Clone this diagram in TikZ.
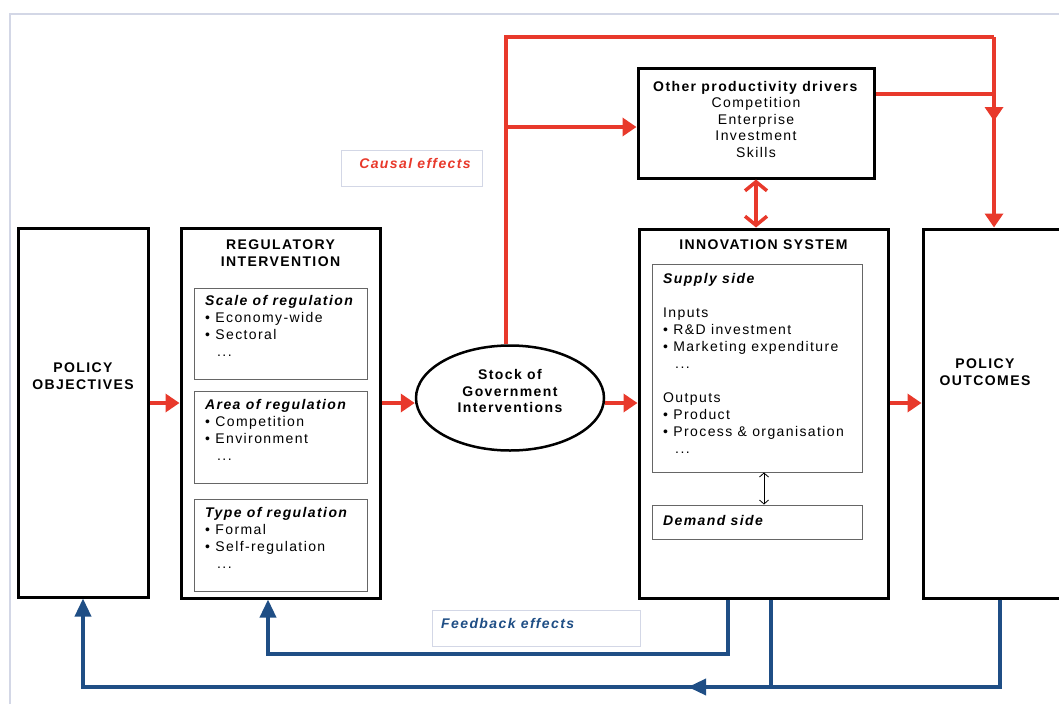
\documentclass[tikz,border=0pt]{standalone}
\usepackage{fontspec}
\setmainfont{Liberation Sans}[LetterSpace=10]
\usetikzlibrary{arrows.meta,shapes.geometric}
\definecolor{cred}{HTML}{E8392B}
\definecolor{cblue}{HTML}{1F4E85}
\definecolor{cframe}{HTML}{D3D7E6}
\tikzset{
  bigbox/.style={draw=black, line width=3pt, fill=white, inner sep=0pt},
  subbox/.style={draw=black!60, line width=0.9pt, inner sep=0pt},
  lblbox/.style={draw=cframe, line width=1pt, inner sep=0pt},
  ttl/.style={font=\fontsize{14}{17}\selectfont\bfseries, align=center, inner sep=0pt},
  body/.style={font=\fontsize{14}{17}\selectfont, align=left, anchor=north west, inner sep=0pt},
  redline/.style={draw=cred, line width=3.5pt},
  redarr/.style={draw=cred, line width=3.5pt, -{Triangle[length=14pt,width=18pt]}},
  bluearr/.style={draw=cblue, line width=3.5pt, -{Triangle[length=18pt,width=16pt]}},
  blueline/.style={draw=cblue, line width=3.5pt},
}
\begin{document}
\begin{tikzpicture}[x=1pt,y=-1pt]
\useasboundingbox (0,0) rectangle (1059,704);
% frame
\draw[cframe, line width=1.2pt] (10,704) -- (10,14) -- (1059,14);

% main boxes
\node[bigbox, minimum width=130, minimum height=369] (pobj) at (83,412.5) {};
\node[ttl] (pobjt) at (83,376) {POLICY\\OBJECTIVES};

\node[bigbox, minimum width=199, minimum height=370] (reg) at (280.5,413) {};
\node[ttl] (regt) at (280.5,253.5) {REGULATORY\\INTERVENTION};

\node[subbox, minimum width=173, minimum height=91] (scale) at (280.5,333.5) {};
\node[body] (scalet) at (205,295) {\textbf{\itshape Scale of regulation}\\ • Economy-wide\\ • Sectoral\\ \hspace{12pt}...};
\node[subbox, minimum width=173, minimum height=92] (area) at (280.5,437) {};
\node[body] (areat) at (205,399) {\textbf{\itshape Area of regulation}\\ • Competition\\ • Environment\\ \hspace{12pt}...};
\node[subbox, minimum width=173, minimum height=92] (type) at (280.5,545) {};
\node[body] (typet) at (205,507) {\textbf{\itshape Type of regulation}\\ • Formal\\ • Self-regulation\\ \hspace{12pt}...};

\node[ellipse, draw=black, line width=2.5pt, minimum width=188, minimum height=105, inner sep=0pt] (ell) at (510,398) {};
\node[font=\fontsize{14}{16.5}\selectfont\bfseries, align=center, inner sep=0pt] (ellt) at (510,391) {Stock of\\Government\\Interventions};

\node[bigbox, minimum width=249, minimum height=369] (innov) at (763.5,413.5) {};
\node[ttl] (innovt) at (763.5,245) {INNOVATION SYSTEM};
\node[subbox, minimum width=210, minimum height=208] (supply) at (757,368) {};
\node[body] (supplyt) at (663,273) {\textbf{\itshape Supply side}\\[17pt] Inputs\\ • R\&D investment\\ • Marketing expenditure\\ \hspace{12pt}...\\[17pt] Outputs\\ • Product\\ • Process \& organisation\\ \hspace{12pt}...};
\node[subbox, minimum width=210, minimum height=34] (demand) at (757,522) {};
\node[body, anchor=west] (demandt) at (663,520) {\textbf{\itshape Demand side}};
\draw[black, line width=0.8pt, {Straight Barb[length=4pt,width=9pt]}-{Straight Barb[length=4pt,width=9pt]}] (supply.south -| 764,0) -- (demand.north -| 764,0);

\node[bigbox, minimum width=142, minimum height=369] (outc) at (994,413.5) {};
\node[ttl] (outct) at (985,372) {POLICY\\OUTCOMES};

\node[bigbox, minimum width=236, minimum height=110] (other) at (756,123) {};
\node[font=\fontsize{14}{16.5}\selectfont, align=center, inner sep=0pt] (othert) at (756,119)
  {\textbf{Other productivity drivers}\\Competition\\Enterprise\\Investment\\Skills};

% labels
\node[lblbox, minimum width=141, minimum height=36] (causal) at (411.5,168) {};
\node[inner sep=0pt, text=cred, font=\fontsize{14}{16}\selectfont\bfseries\itshape] (causalt) at (415,163) {Causal effects};
\node[lblbox, minimum width=208, minimum height=36] (feed) at (536,628) {};
\node[inner sep=0pt, anchor=west, text=cblue, font=\fontsize{14}{16}\selectfont\bfseries\itshape] (feedt) at (441,623) {Feedback effects};

% red causal arrows
\coordinate (ymain) at (0,403);
\draw[redarr] (pobj.east |- ymain) -- (reg.west |- ymain);
\draw[redarr] (reg.east |- ymain) -- (ell.west |- ymain);
\draw[redarr] (ell.east |- ymain) -- (innov.west |- ymain);
\draw[redarr] (innov.east |- ymain) -- (outc.west |- ymain);

\coordinate (top) at (0,37);
\coordinate (stem) at (506,0);
\coordinate (tr) at (outc.north |- top);
\draw[redline] (ell.north -| stem) -- (stem |- top) -- (tr);
\draw[redarr] (tr) -- (outc.north);
\draw[redarr] (stem |- 0,127) -- (other.west |- 0,127);
\draw[redline] (other.north east |- 0,94) -- (tr |- 0,94);
\draw[redarr] (tr |- 0,94) -- (tr |- 0,121);
\draw[draw=cred, line width=3.5pt, {Straight Barb[length=9pt,width=22pt]}-{Straight Barb[length=9pt,width=22pt]}]
  (other.south) -- (other.south |- innov.north);

% blue feedback arrows
\coordinate (f1) at (728,654);
\coordinate (f2) at (771,687);
\coordinate (f3) at (1000,687);
\draw[bluearr] (innov.south -| f1) -- (f1) -| (reg.south -| 268,0);
\draw[bluearr] (outc.south -| f3) -- (f3) -| (pobj.south);
\draw[blueline] (innov.south -| f2) -- (f2);
\draw[bluearr] (f2) -- (688,687);
\end{tikzpicture}
\end{document}
